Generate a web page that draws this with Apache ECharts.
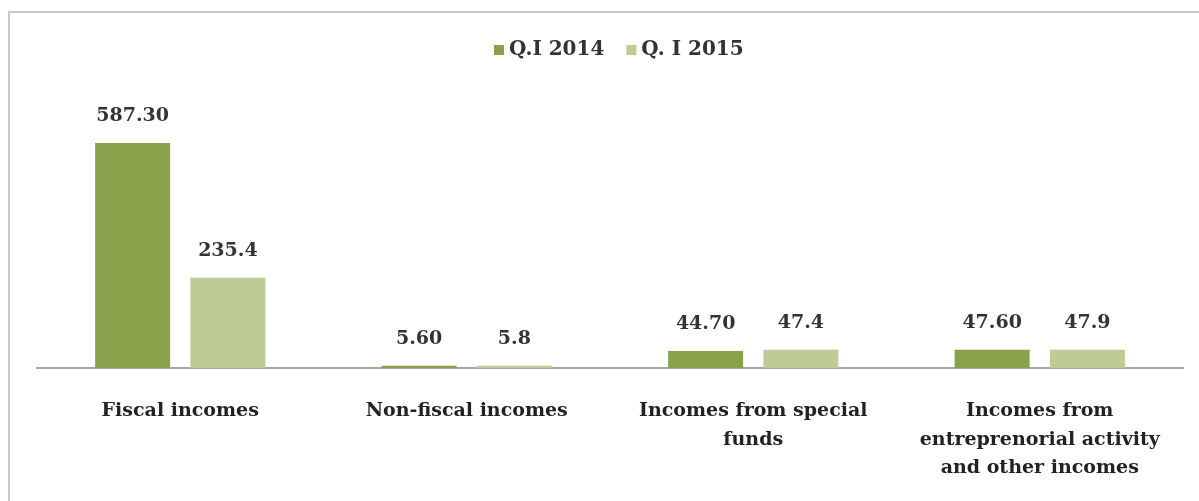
<!DOCTYPE html>
<html><head><meta charset="utf-8">
<script src="https://cdn.jsdelivr.net/npm/echarts@6/dist/echarts.min.js"></script>
<style>html,body{margin:0;padding:0;background:#fff}#c{width:1199px;height:501px}</style>
</head><body><div id="c"></div>
<script>
const categories = ['Fiscal incomes', 'Non-fiscal incomes', 'Incomes from special\nfunds', 'Incomes from\nentreprenorial activity\nand other incomes'];
const seriesNames = ['Q.I 2014', 'Q. I 2015'];
const values2014 = [587.30, 5.60, 44.70, 47.60];
const values2015 = [235.4, 5.8, 47.4, 47.9];
const labels2014 = ['587.30', '5.60', '44.70', '47.60'];
const labels2015 = ['235.4', '5.8', '47.4', '47.9'];

const FONT = 'DejaVu Serif';
const chart = echarts.init(document.getElementById('c'), null, {renderer: 'canvas'});
function lbl(texts) {
  return {
    show: true, position: 'top', distance: 17,
    fontFamily: FONT, fontWeight: 'bold', fontSize: 19, color: '#333',
    formatter: p => texts[p.dataIndex]
  };
}
chart.setOption({
  animation: false,
  backgroundColor: '#fff',
  graphic: [{type: 'rect', shape: {x: 9, y: 12, width: 1300, height: 600},
    style: {fill: 'none', stroke: '#c9c9c9', lineWidth: 2}, silent: true}],
  legend: {
    top: 35, left: 489, itemWidth: 10, itemHeight: 10, itemGap: 22,
    icon: 'rect',
    textStyle: {fontFamily: FONT, fontWeight: 'bold', fontSize: 20, color: '#333'},
    data: seriesNames
  },
  grid: {left: 37, right: 16, top: 143, bottom: 133, containLabel: false},
  xAxis: {
    type: 'category', data: categories,
    axisLine: {lineStyle: {color: '#a6a6a6', width: 2}},
    axisTick: {show: false},
    axisLabel: {interval: 0, margin: 29, fontFamily: FONT, fontWeight: 'bold', fontSize: 19,
      color: '#222', lineHeight: 28.5, align: 'center'}
  },
  yAxis: {type: 'value', min: 0, max: v => v.max, show: false, splitLine: {show: false}},
  series: [
    {name: seriesNames[0], type: 'bar', data: values2014, barWidth: 75, barGap: '27%',
      itemStyle: {color: '#87a24a'}, label: lbl(labels2014)},
    {name: seriesNames[1], type: 'bar', data: values2015, barWidth: 75,
      itemStyle: {color: '#bccc94'}, label: lbl(labels2015)}
  ]
});
</script></body></html>
